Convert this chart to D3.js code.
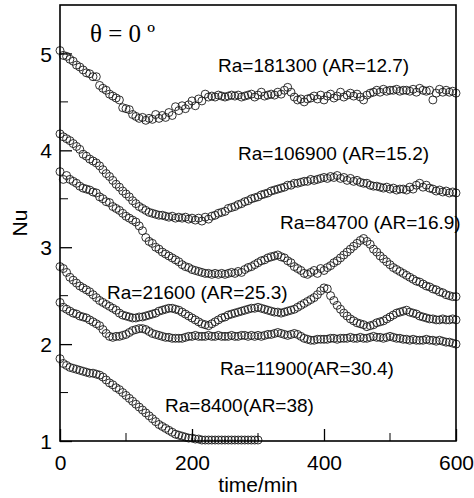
<!DOCTYPE html>
<html>
<head>
<meta charset="utf-8">
<script src="https://cdn.jsdelivr.net/npm/d3@7"></script>
<style>
	body { margin: 0; background: #fff; }
	text { font-family: "Liberation Sans", Arial, sans-serif; fill: #000; }
</style>
</head>
<body>
<div id="c-svg-01"></div>
<script>

//sample times (min)
const timeMin = [
	0,5,10,15,20,25,30,35,40,45,
	50,55,60,65,70,75,80,85,90,95,
	100,105,110,115,120,125,130,135,140,145,
	150,155,160,165,170,175,180,185,190,195,
	200,205,210,215,220,225,230,235,240,245,
	250,255,260,265,270,275,280,285,290,295,
	300,305,310,315,320,325,330,335,340,345,
	350,355,360,365,370,375,380,385,390,395,
	400,405,410,415,420,425,430,435,440,445,
	450,455,460,465,470,475,480,485,490,495,
	500,505,510,515,520,525,530,535,540,545,
	550,555,560,565,570,575,580,585,590,595,
	600
];

//Nu values
const nuRa181300 = [
	5.03,4.98,4.97,4.94,4.92,4.88,4.86,4.83,4.80,4.79,
	4.76,4.76,4.67,4.64,4.62,4.58,4.56,4.54,4.52,4.44,
	4.43,4.42,4.37,4.35,4.33,4.34,4.31,4.33,4.32,4.37,
	4.33,4.36,4.34,4.39,4.36,4.45,4.41,4.46,4.43,4.47,
	4.51,4.46,4.53,4.51,4.58,4.55,4.56,4.55,4.57,4.56,
	4.55,4.56,4.57,4.56,4.57,4.55,4.56,4.57,4.58,4.55,
	4.57,4.60,4.56,4.57,4.58,4.57,4.60,4.58,4.62,4.65,
	4.60,4.55,4.52,4.53,4.50,4.53,4.54,4.56,4.53,4.57,
	4.52,4.56,4.58,4.54,4.56,4.60,4.55,4.57,4.59,4.56,
	4.58,4.55,4.52,4.57,4.59,4.60,4.62,4.60,4.63,4.61,
	4.62,4.62,4.63,4.61,4.62,4.62,4.61,4.63,4.60,4.64,
	4.62,4.61,4.62,4.52,4.59,4.63,4.60,4.62,4.60,4.61,
	4.59
];

const nuRa106900 = [
	4.17,4.14,4.12,4.10,4.07,4.04,4.01,3.96,3.94,3.91,
	3.89,3.87,3.84,3.80,3.76,3.73,3.69,3.65,3.62,3.58,
	3.55,3.52,3.48,3.45,3.42,3.40,3.38,3.36,3.35,3.34,
	3.33,3.33,3.32,3.31,3.32,3.30,3.31,3.30,3.31,3.29,
	3.30,3.28,3.30,3.27,3.31,3.29,3.32,3.33,3.35,3.36,
	3.37,3.40,3.41,3.42,3.44,3.45,3.47,3.48,3.50,3.51,
	3.52,3.54,3.55,3.56,3.58,3.59,3.60,3.61,3.62,3.64,
	3.64,3.66,3.66,3.67,3.68,3.68,3.70,3.69,3.70,3.71,
	3.72,3.71,3.73,3.72,3.74,3.71,3.72,3.69,3.71,3.68,
	3.69,3.67,3.66,3.66,3.64,3.63,3.63,3.62,3.61,3.62,
	3.60,3.61,3.59,3.60,3.60,3.59,3.62,3.60,3.64,3.66,
	3.62,3.64,3.61,3.60,3.58,3.59,3.57,3.58,3.56,3.57,
	3.56
];

const nuRa84700 = [
	3.78,3.70,3.74,3.70,3.68,3.66,3.63,3.61,3.60,3.59,
	3.57,3.56,3.52,3.50,3.47,3.46,3.42,3.40,3.38,3.35,
	3.32,3.30,3.28,3.26,3.22,3.17,3.10,3.06,3.04,3.00,
	2.98,2.95,2.93,2.91,2.89,2.87,2.85,2.82,2.80,2.79,
	2.77,2.76,2.75,2.74,2.73,2.73,2.72,2.73,2.72,2.73,
	2.72,2.73,2.74,2.73,2.75,2.74,2.77,2.79,2.80,2.82,
	2.84,2.86,2.87,2.89,2.90,2.91,2.92,2.90,2.89,2.86,
	2.84,2.80,2.78,2.76,2.73,2.72,2.74,2.76,2.73,2.78,
	2.76,2.79,2.81,2.84,2.86,2.89,2.92,2.95,2.98,3.01,
	3.04,3.07,3.09,3.06,3.03,2.98,2.95,2.91,2.88,2.85,
	2.82,2.79,2.77,2.75,2.73,2.71,2.69,2.67,2.65,2.64,
	2.62,2.60,2.59,2.57,2.56,2.54,2.53,2.51,2.50,2.49,
	2.49
];

const nuRa21600 = [
	2.80,2.78,2.74,2.69,2.66,2.63,2.60,2.58,2.56,2.54,
	2.51,2.48,2.45,2.43,2.41,2.39,2.37,2.35,2.32,2.30,
	2.29,2.28,2.27,2.27,2.28,2.28,2.29,2.30,2.31,2.32,
	2.34,2.35,2.36,2.37,2.37,2.36,2.35,2.33,2.31,2.29,
	2.27,2.25,2.23,2.21,2.20,2.19,2.21,2.23,2.25,2.27,
	2.28,2.30,2.31,2.32,2.33,2.34,2.35,2.36,2.37,2.37,
	2.38,2.37,2.36,2.35,2.34,2.33,2.33,2.32,2.33,2.34,
	2.35,2.36,2.38,2.40,2.42,2.44,2.46,2.48,2.51,2.55,
	2.58,2.57,2.50,2.45,2.40,2.36,2.32,2.29,2.26,2.24,
	2.22,2.21,2.20,2.18,2.19,2.20,2.22,2.23,2.24,2.26,
	2.28,2.30,2.32,2.33,2.34,2.35,2.33,2.32,2.31,2.29,
	2.28,2.27,2.26,2.26,2.25,2.25,2.26,2.25,2.25,2.26,
	2.25
];

const nuRa11900 = [
	2.43,2.38,2.36,2.34,2.32,2.31,2.29,2.28,2.27,2.25,
	2.23,2.21,2.19,2.15,2.11,2.08,2.07,2.08,2.08,2.09,
	2.10,2.12,2.14,2.15,2.16,2.16,2.15,2.13,2.11,2.10,
	2.09,2.08,2.07,2.07,2.06,2.06,2.06,2.06,2.07,2.08,
	2.08,2.09,2.08,2.08,2.08,2.09,2.08,2.08,2.09,2.08,
	2.08,2.08,2.09,2.08,2.08,2.09,2.09,2.08,2.09,2.08,
	2.09,2.08,2.09,2.10,2.10,2.11,2.12,2.11,2.10,2.09,
	2.10,2.11,2.10,2.08,2.06,2.05,2.04,2.04,2.05,2.05,
	2.05,2.05,2.06,2.06,2.05,2.06,2.06,2.06,2.07,2.06,
	2.06,2.07,2.06,2.06,2.07,2.08,2.07,2.07,2.06,2.07,
	2.08,2.07,2.06,2.06,2.05,2.05,2.04,2.05,2.04,2.04,
	2.04,2.05,2.04,2.04,2.03,2.04,2.03,2.02,2.02,2.01,
	2.00
];

//this one stops at 300 min
const nuRa8400 = [
	1.85,1.80,1.78,1.76,1.75,1.74,1.73,1.72,1.71,1.70,
	1.70,1.69,1.68,1.66,1.63,1.60,1.58,1.55,1.53,1.50,
	1.47,1.44,1.41,1.38,1.35,1.32,1.29,1.26,1.23,1.20,
	1.17,1.15,1.13,1.11,1.09,1.07,1.06,1.05,1.04,1.03,
	1.03,1.02,1.02,1.01,1.01,1.01,1.01,1.01,1.01,1.01,
	1.01,1.01,1.01,1.01,1.01,1.01,1.01,1.01,1.01,1.01,
	1.01
];

const seriesValues = [nuRa181300, nuRa106900, nuRa84700, nuRa21600, nuRa11900, nuRa8400];

//curve labels
const seriesLabels = [
	"Ra=181300 (AR=12.7)",
	"Ra=106900 (AR=15.2)",
	"Ra=84700 (AR=16.9)",
	"Ra=21600 (AR=25.3)",
	"Ra=11900(AR=30.4)",
	"Ra=8400(AR=38)"
];

//ticks
const xMajorTicks = [0, 200, 400, 600];
const xMinorTicks = [100, 300, 500];
const yMajorTicks = [1, 2, 3, 4, 5];
const yMinorTicks = [1.5, 2.5, 3.5, 4.5];


//sizing
const width = 474;
const height = 498;
const margin = {top: 5, right: 18, bottom: 57, left: 60};
const innerW = width - margin.left - margin.right;
const innerH = height - margin.top - margin.bottom;

let svg = d3.select("#c-svg-01")
	.append("svg")
	.attr("width", width)
	.attr("height", height);

let g = svg.append("g")
	.attr("transform", "translate(" + margin.left + "," + margin.top + ")");

let x = d3.scaleLinear().domain([0, 600]).range([0, innerW]);
let y = d3.scaleLinear().domain([1, 5.5]).range([innerH, 0]);

//data points
seriesValues.forEach((vals) => {
	let pts = vals.map((v, i) => ({t: timeMin[i], nu: v}));
	g.append("g")
		.selectAll("circle")
		.data(pts)
		.enter().append("circle")
		.attr("cx", (d) => x(d.t))
		.attr("cy", (d) => y(d.nu))
		.attr("r", 4)
		.attr("fill", "none")
		.attr("stroke", "#1a1a1a")
		.attr("stroke-width", 0.9);
});

//axes, ticks inside
let xAxis = g.append("g")
	.attr("transform", "translate(0," + innerH + ")")
	.call(d3.axisBottom(x).tickValues(xMajorTicks).tickFormat(d3.format("d"))
		.tickSizeInner(-12).tickSizeOuter(0).tickPadding(14));

xAxis.append("g").selectAll("line")
	.data(xMinorTicks)
	.enter().append("line")
	.attr("x1", (d) => x(d)).attr("x2", (d) => x(d))
	.attr("y1", 0).attr("y2", -8)
	.attr("stroke", "#000");

let yAxis = g.append("g")
	.call(d3.axisLeft(y).tickValues(yMajorTicks).tickFormat(d3.format("d"))
		.tickSizeInner(-12).tickSizeOuter(0).tickPadding(8));

yAxis.append("g").selectAll("line")
	.data(yMinorTicks)
	.enter().append("line")
	.attr("x1", 0).attr("x2", 8)
	.attr("y1", (d) => y(d)).attr("y2", (d) => y(d))
	.attr("stroke", "#000");

svg.selectAll(".tick text")
	.style("font-size", "21px")
	.style("font-family", "'Liberation Sans', Arial, sans-serif");
yAxis.selectAll(".tick text").attr("dy", "0.36em");
svg.selectAll(".tick line").attr("stroke-width", 1.3);
svg.selectAll(".domain").remove();

//frame
g.append("rect")
	.attr("width", innerW)
	.attr("height", innerH)
	.attr("fill", "none")
	.attr("stroke", "#000")
	.attr("stroke-width", 1.6);

//axis titles
svg.append("text")
	.attr("x", margin.left + innerW / 2)
	.attr("y", 492)
	.attr("text-anchor", "middle")
	.style("font-size", "21px")
	.text("time/min");

svg.append("text")
	.attr("transform", "translate(27," + (margin.top + innerH / 2) + ") rotate(-90)")
	.attr("text-anchor", "middle")
	.style("font-size", "21px")
	.text("Nu");

//theta label
svg.append("text")
	.attr("x", 90)
	.attr("y", 42)
	.style("font-family", "'Liberation Serif', 'Times New Roman', serif")
	.style("font-size", "25px")
	.text("θ = 0 º");

//curve labels
const labelPos = [[218, 72], [238, 160], [280, 229], [107, 299], [220, 375], [165, 412]];

svg.append("g").selectAll("text")
	.data(seriesLabels)
	.enter().append("text")
	.attr("x", (d, i) => labelPos[i][0])
	.attr("y", (d, i) => labelPos[i][1])
	.style("font-size", "19px")
	.text((d) => d);

</script>
</body>
</html>
